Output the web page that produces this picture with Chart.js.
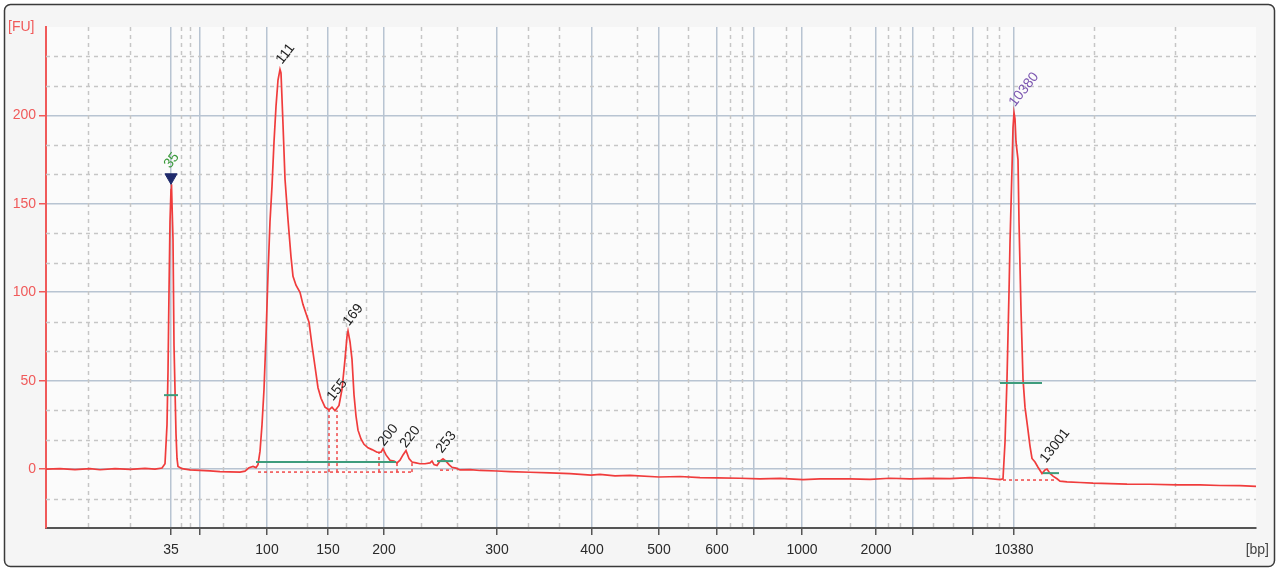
<!DOCTYPE html>
<html>
<head>
<meta charset="UTF-8">
<title>Electropherogram</title>
<script src="https://cdn.jsdelivr.net/npm/chart.js"></script>
<style>
  html, body { margin: 0; padding: 0; background: #ffffff; }
  canvas { display: block; }
</style>
</head>
<body>
<canvas id="trace" width="1279" height="571"></canvas>
<script>
// x axis is migration (scan number); the bp labels sit on the ladder positions
const xTickScans  = [125, 154, 221, 282, 338, 451, 546, 613, 671, 708, 756, 830, 867, 927, 968];
const xTickLabels = ['35', '', '100', '150', '200', '300', '400', '500', '600', '', '1000', '2000', '', '', '10380'];
const xMinorScans = [42, 84, 135, 144, 177, 200, 261, 300, 320, 375, 411, 482, 513, 591, 642, 684, 696,
                     740, 804, 842, 854, 887, 907, 941, 953, 1048, 1129];
const yTickValues = [0, 50, 100, 150, 200];

// fluorescence trace
const traceScan = [0, 14, 29, 44, 54, 69, 84, 99, 109, 116, 119, 121, 122, 123, 124, 125, 125.5, 126, 127, 128,
  129, 130, 131, 132, 136, 144, 154, 164, 174, 184, 194, 199, 203, 207, 210, 212, 214, 216, 218, 220,
  222, 224, 226, 228, 230, 232, 234, 235, 237, 239, 242, 245, 247, 250, 254, 257, 260, 263, 266, 269,
  272, 275, 279, 283, 286, 289, 293, 296, 299, 301, 302, 304, 306, 308, 310, 312, 315, 318, 322, 326,
  331, 335, 337, 340, 344, 348, 351, 354, 357, 360, 363, 366, 370, 374, 379, 384, 386, 388, 391, 394,
  397, 400, 403, 406, 410, 414, 424, 434, 451, 464, 484, 504, 524, 545, 554, 569, 584, 613, 634, 654,
  671, 694, 714, 734, 757, 774, 804, 824, 844, 864, 884, 904, 924, 939, 954, 957, 959, 961, 963, 964,
  966, 967, 968, 969, 970, 972, 973, 975, 977, 979, 982, 984, 986, 989, 992, 996, 999, 1001, 1004, 1007,
  1011, 1014, 1021, 1034, 1047, 1064, 1081, 1104, 1131, 1154, 1174, 1194, 1210];
const traceFU = [0, 0.3, -0.3, 0.2, -0.4, 0.3, -0.2, 0.4, 0, 0.6, 3, 25, 55, 100, 140, 158, 161, 150, 130, 70,
  45, 20, 6, 1.5, 0.2, -0.5, -0.8, -1.0, -1.4, -1.6, -1.7, -1.2, 0.8, 1.5, 0.8, 2.5, 10, 25, 45, 75,
  110, 140, 160, 185, 205, 220, 226, 224, 195, 164, 141, 120, 109, 104, 100, 93, 88, 83, 70, 58,
  46, 40, 35, 33.5, 35, 33, 36, 45, 62, 75, 78, 72, 62, 42, 30, 22, 17, 14, 12, 11,
  9.5, 9.5, 11.5, 8, 5, 4.5, 3.5, 5, 8, 10.5, 6, 4, 3.5, 3, 3, 3.5, 4.5, 2.5, 2, 4.5,
  5.8, 4.5, 2.5, 1, 0.5, -0.5, -0.3, -0.8, -1.1, -1.4, -1.8, -2.2, -2.6, -3.4, -3.0, -3.8, -3.6, -4.5, -4.2, -4.8,
  -5.0, -5.2, -5.6, -5.3, -6.0, -5.5, -5.6, -5.8, -5.2, -5.6, -5.3, -5.4, -4.8, -5.2, -6, -5.5, 15, 51, 100, 128,
  170, 193, 201.5, 198, 185, 175, 140, 90, 51, 35, 22, 13, 6, 4, 1, -2.5, -0.5, 0, -2.5, -4,
  -5.5, -6.8, -7.3, -7.6, -8, -8.2, -8.5, -8.6, -9, -9, -9.3, -9.4, -9.8];

// peak calls: label, where the rotated text starts, colour
const peakLabels = ['35', '111', '155', '169', '200', '220', '253', '10380', '13001'];
const peakScans  = [121, 233, 284, 300, 335, 357, 393, 966, 997];
const peakFU     = [171, 230, 39.5, 82, 14, 13, 10, 206, 4.5];
const peakColors = ['#3a9a3a', '#1e1e1e', '#1e1e1e', '#1e1e1e', '#1e1e1e', '#1e1e1e', '#1e1e1e', '#7b55b0', '#1e1e1e'];

// lower marker triangle
const markerScan = [125];
const markerFU = [165];

// peak width bars (green) [scanFrom, scanTo, FU]
const widthBars = [[118, 132, 41.8], [210, 350, 4], [391, 407, 4.5], [954, 996, 48.6], [997, 1013, -2.3]];
// integration baselines and peak boundaries (red dotted) [x1, y1, x2, y2]
const baseSegs = [[212, -1.7, 366, -1.7], [394, -0.6, 407, -0.6], [957, -6.2, 1011, -6.2],
                  [283, -1.7, 283, 34], [291, -1.7, 291, 33], [333, -1.7, 333, 9.5],
                  [351, -1.7, 351, 3.5], [366, -1.7, 366, 3.5]];

const tracePoints = traceScan.map((s, i) => ({ x: s, y: traceFU[i] }));

const datasets = [{
  data: tracePoints,
  borderColor: '#f03c3c',
  borderWidth: 1.7,
  pointRadius: 0,
  tension: 0,
  order: 2
}];
widthBars.forEach(b => datasets.push({
  data: [{ x: b[0], y: b[2] }, { x: b[1], y: b[2] }],
  borderColor: '#3e9c7c', borderWidth: 2, pointRadius: 0, order: 1
}));
baseSegs.forEach(s => datasets.push({
  data: [{ x: s[0], y: s[1] }, { x: s[2], y: s[3] }],
  borderColor: '#f04848', borderWidth: 1.5, borderDash: [3, 3], pointRadius: 0, order: 3
}));
datasets.push({
  type: 'scatter',
  data: markerScan.map((s, i) => ({ x: s, y: markerFU[i] })),
  pointStyle: 'triangle', rotation: 180, radius: 7,
  backgroundColor: '#1f2a6b', borderColor: '#1f2a6b', order: 0
});

// frame, plot background and dashed minor grid
const framePlugin = {
  id: 'frame',
  beforeDraw(chart) {
    const ctx = chart.ctx, a = chart.chartArea;
    ctx.save();
    ctx.fillStyle = '#ffffff';
    ctx.fillRect(0, 0, chart.width, chart.height);
    ctx.beginPath();
    ctx.roundRect(4.5, 4.5, chart.width - 9, chart.height - 9, 6);
    ctx.fillStyle = '#f5f5f5';
    ctx.fill();
    ctx.strokeStyle = '#3a3a3a';
    ctx.lineWidth = 1.5;
    ctx.stroke();
    ctx.fillStyle = '#fbfbfb';
    ctx.fillRect(a.left, a.top, a.right - a.left, a.bottom - a.top);
    ctx.restore();
  },
  beforeDatasetsDraw(chart) {
    const ctx = chart.ctx, a = chart.chartArea;
    const xs = chart.scales.x, ys = chart.scales.y;
    ctx.save();
    ctx.strokeStyle = '#c6c6c6';
    ctx.lineWidth = 1.5;
    ctx.setLineDash([4, 4]);
    xMinorScans.forEach(v => {
      const px = Math.round(xs.getPixelForValue(v)) + 0.5;
      ctx.beginPath(); ctx.moveTo(px, a.top); ctx.lineTo(px, a.bottom); ctx.stroke();
    });
    for (let k = -2; k <= 14; k++) {
      if (k % 3 === 0) continue;
      const py = Math.round(ys.getPixelForValue(k * 50 / 3)) + 0.5;
      if (py <= a.top || py >= a.bottom) continue;
      ctx.beginPath(); ctx.moveTo(a.left, py); ctx.lineTo(a.right, py); ctx.stroke();
    }
    ctx.restore();
  },
  afterDatasetsDraw(chart) {
    const ctx = chart.ctx;
    const xs = chart.scales.x, ys = chart.scales.y;
    ctx.save();
    ctx.font = '14px "Liberation Sans"';
    ctx.textAlign = 'left';
    ctx.textBaseline = 'middle';
    peakLabels.forEach((t, i) => {
      ctx.save();
      ctx.translate(xs.getPixelForValue(peakScans[i]), ys.getPixelForValue(peakFU[i]));
      ctx.rotate(-52 * Math.PI / 180);
      ctx.fillStyle = peakColors[i];
      ctx.fillText(t, 0, 0);
      ctx.restore();
    });
    ctx.font = '14px "Liberation Sans"';
    ctx.fillStyle = '#f05a5a';
    ctx.fillText('[FU]', 8, 27);
    ctx.fillStyle = '#444';
    ctx.textAlign = 'right';
    ctx.fillText('[bp]', 1269, 550);
    ctx.restore();
  }
};

new Chart(document.getElementById('trace'), {
  type: 'line',
  data: { datasets },
  options: {
    responsive: false,
    animation: false,
    devicePixelRatio: 1,
    layout: { padding: { top: 27, right: 23, left: 0, bottom: 0 } },
    plugins: { legend: { display: false }, tooltip: { enabled: false } },
    scales: {
      x: {
        type: 'linear',
        min: 0,
        max: 1210,
        afterBuildTicks: s => { s.ticks = xTickScans.map(v => ({ value: v })); },
        afterFit: s => { s.height = 43; },
        grid: { color: '#b8c4d2', lineWidth: 1.5, tickColor: '#555', tickLength: 7 },
        border: { color: '#555', width: 2 },
        ticks: {
          autoSkip: false, maxRotation: 0, padding: 7,
          color: '#2a2a2a', font: { family: 'Liberation Sans', size: 14 },
          callback: (v, i) => xTickLabels[i]
        }
      },
      y: {
        min: -100 / 3,
        max: 250,
        afterBuildTicks: s => { s.ticks = yTickValues.map(v => ({ value: v })); },
        afterFit: s => { s.width = 46; },
        grid: { color: '#b8c4d2', lineWidth: 1.5, tickColor: '#f05a5a', tickLength: 7 },
        border: { color: '#f05a5a', width: 2 },
        ticks: {
          padding: 3, color: '#f05a5a', font: { family: 'Liberation Sans', size: 14 },
          callback: v => String(v)
        }
      }
    }
  },
  plugins: [framePlugin]
});
</script>
</body>
</html>
